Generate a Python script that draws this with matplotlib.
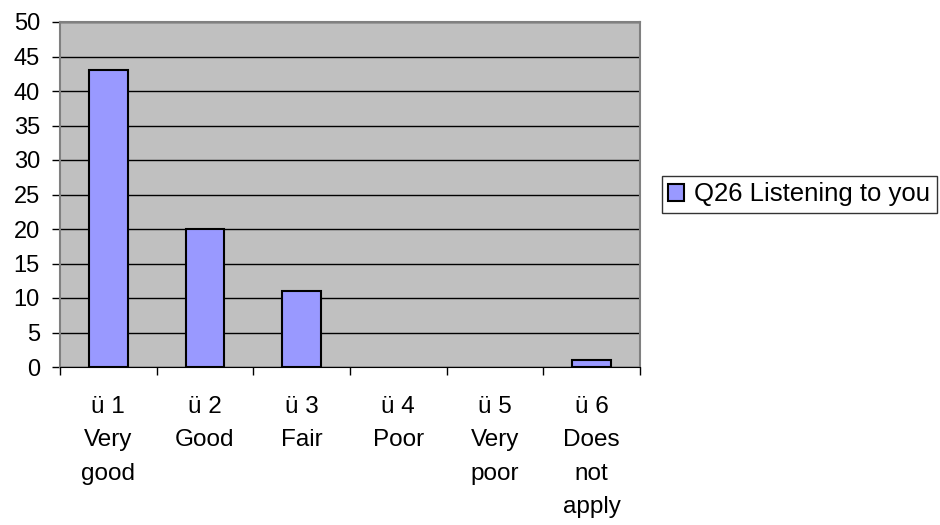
import matplotlib
matplotlib.use("Agg")
import matplotlib.pyplot as plt
import numpy as np

plt.rcParams['font.family'] = ['Liberation Sans', 'DejaVu Sans']

categories = ["ü 1\nVery\ngood", "ü 2\nGood", "ü 3\nFair", "ü 4\nPoor", "ü 5\nVery\npoor", "ü 6\nDoes\nnot\napply"]
values = [43, 20, 11, 0, 0, 1]
series_name = "Q26 Listening to you"
yticks = [0, 5, 10, 15, 20, 25, 30, 35, 40, 45, 50]

fig = plt.figure(figsize=(9.4, 5.25), dpi=100)
ax = fig.add_axes([60/940, 1-367/525, 580/940, 345/525])
ax.set_facecolor('#C0C0C0')
x = np.arange(len(categories))
edges = ['black' if v > 0 else 'none' for v in values]
bars = ax.bar(x, values, width=0.4, color='#9999FF', edgecolor=edges, linewidth=1.5, zorder=3, label=series_name)
ax.set_xlim(-0.5, len(categories)-0.5)
ax.set_ylim(0, 50)
ax.set_yticks(yticks)
ax.yaxis.grid(True, color='black', linewidth=1, zorder=1)
ax.set_axisbelow(True)
ax.tick_params(axis='y', labelsize=17, length=5.5, width=1, direction='out', pad=9)
ax.set_xticks(x)
ax.set_xticklabels(categories, fontsize=17.5, linespacing=1.66, va='top')
ax.tick_params(axis='x', which='major', length=0, pad=21)
ax.set_xticks(np.arange(-0.5, len(categories), 1), minor=True)
ax.tick_params(axis='x', which='minor', length=5.5, width=1, direction='out')
for s in ['top', 'right', 'left']:
    ax.spines[s].set_color('#808080')
    ax.spines[s].set_linewidth(1.5)
ax.spines['bottom'].set_color('black')

leg = fig.legend(loc='center left', bbox_to_anchor=(662/940, 1-194.5/525), fontsize=18.5,
                 frameon=True, fancybox=False, edgecolor='black', handlelength=0.6, handleheight=0.6,
                 handletextpad=0.4, borderpad=0.25, borderaxespad=0)
leg.get_frame().set_linewidth(1)
for p in leg.get_patches():
    p.set_edgecolor('black')
    p.set_linewidth(1.5)

fig.savefig('out.png', dpi=100, facecolor='white')
